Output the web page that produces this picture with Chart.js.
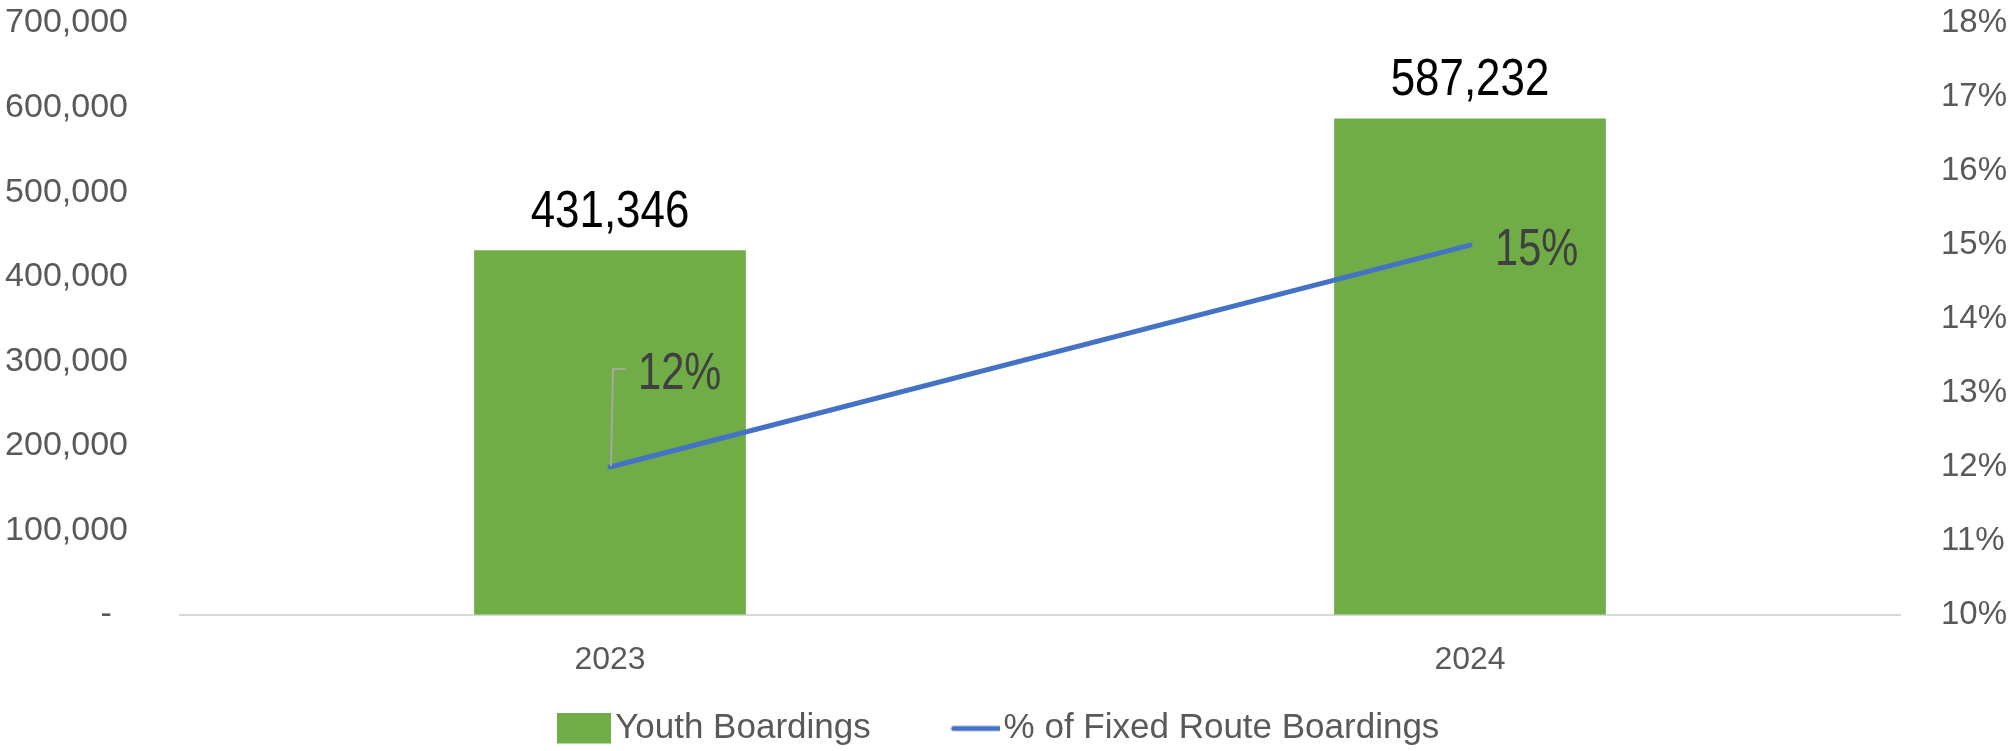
<!DOCTYPE html>
<html>
<head>
<meta charset="utf-8">
<script src="https://cdn.jsdelivr.net/npm/chart.js@4.4.1/dist/chart.umd.min.js"></script>
<style>
  body { margin: 0; background: #fff; }
  #wrap { width: 2010px; height: 751px; }
</style>
</head>
<body>
<div id="wrap"><canvas id="youthChart"></canvas></div>
<script>
const years = ["2023", "2024"];
const youthBoardings = [431346, 587232];
const pctFixedRoute = [0.12, 0.15];
const leftTicks = [0, 100000, 200000, 300000, 400000, 500000, 600000, 700000];
const rightTicks = [0.10, 0.11, 0.12, 0.13, 0.14, 0.15, 0.16, 0.17, 0.18];

const FONT = '"Liberation Sans", Arial, sans-serif';
const GREEN = '#70AD47';
const BLUE = '#4472C4';

// legend swatches (box and short line), right edges line up so the text sits close
function swatch(color, isLine) {
  const c = document.createElement('canvas');
  c.width = 54; c.height = 32;
  const g = c.getContext('2d');
  g.fillStyle = color;
  g.strokeStyle = color;
  if (isLine) {
    g.lineWidth = 5;
    g.lineCap = 'round';
    g.beginPath();
    g.moveTo(8, 16);
    g.lineTo(53, 16);
    g.stroke();
  } else {
    g.fillRect(0, 0, 54, 31);
  }
  return c;
}

// narrow looking text (no narrow font installed, so squeeze it)
function narrowText(ctx, txt, x, y, k, align) {
  ctx.save();
  ctx.translate(x, y);
  ctx.scale(k, 1);
  ctx.textAlign = align;
  ctx.fillText(txt, 0, 0);
  ctx.restore();
}

const valueLabels = {
  id: 'valueLabels',
  afterDatasetsDraw(chart) {
    const ctx = chart.ctx;
    ctx.save();
    ctx.textBaseline = 'alphabetic';

    // bar labels
    ctx.font = '51px ' + FONT;
    ctx.fillStyle = '#000000';
    chart.getDatasetMeta(0).data.forEach((bar, i) => {
      narrowText(ctx, youthBoardings[i].toLocaleString('en-US'), bar.x, bar.y - 23, 0.86, 'center');
    });

    // line labels
    ctx.font = '52px ' + FONT;
    ctx.fillStyle = '#404040';
    chart.getDatasetMeta(1).data.forEach((p, i) => {
      const txt = Math.round(pctFixedRoute[i] * 100) + '%';
      if (i == 0) {
        // label was dragged up, leader line back to the point
        ctx.strokeStyle = '#A6A6A6';
        ctx.lineWidth = 2;
        ctx.beginPath();
        ctx.moveTo(p.x + 1, p.y - 1);
        ctx.lineTo(p.x + 3, p.y - 98);
        ctx.lineTo(p.x + 16, p.y - 98);
        ctx.stroke();
        narrowText(ctx, txt, p.x + 28, p.y - 78, 0.8, 'left');
      } else {
        narrowText(ctx, txt, p.x + 25, p.y + 20, 0.8, 'left');
      }
    });
    ctx.restore();
  }
};

const hiddenTicks = (len) => ({
  display: true,
  drawOnChartArea: false,
  drawTicks: true,
  tickLength: len,
  tickColor: 'rgba(0,0,0,0)'
});

new Chart(document.getElementById("youthChart"), {
  type: 'bar',
  data: {
    labels: years,
    datasets: [
      {
        label: "Youth Boardings",
        data: youthBoardings,
        backgroundColor: GREEN,
        borderWidth: 0,
        barPercentage: 0.316,
        categoryPercentage: 1,
        yAxisID: 'y',
        pointStyle: swatch(GREEN, false),
        order: 1
      },
      {
        type: 'line',
        label: "% of Fixed Route Boardings",
        data: pctFixedRoute,
        borderColor: BLUE,
        backgroundColor: BLUE,
        borderWidth: 5,
        borderCapStyle: 'round',
        pointRadius: 0,
        pointStyle: swatch(BLUE, true),
        yAxisID: 'y1',
        order: 0
      }
    ]
  },
  options: {
    responsive: true,
    maintainAspectRatio: false,
    animation: false,
    layout: { padding: { top: 0, bottom: -5, left: 0, right: 0 } },
    plugins: {
      legend: {
        display: true,
        position: 'bottom',
        labels: {
          usePointStyle: true,
          pointStyleWidth: 27,
          padding: 30,
          color: '#595959',
          font: { family: FONT, size: 35 },
          generateLabels: (chart) => {
            const items = Chart.defaults.plugins.legend.labels.generateLabels(chart);
            // wider gap after the first entry
            items.forEach(it => { if (it.datasetIndex == 0) it.text += '      '; });
            return items;
          },
          sort: (a, b) => a.datasetIndex - b.datasetIndex
        }
      },
      tooltip: { enabled: false }
    },
    scales: {
      x: {
        grid: hiddenTicks(26),
        border: { display: true, color: '#D9D9D9', width: 2 },
        ticks: {
          color: '#595959',
          padding: 0,
          font: { family: FONT, size: 32 }
        },
        afterFit: (scale) => { scale.height = 66; }
      },
      y: {
        position: 'left',
        min: 0,
        max: 700000,
        grid: hiddenTicks(52),
        border: { display: false },
        afterBuildTicks: (scale) => { scale.ticks = leftTicks.map(v => ({ value: v })); },
        ticks: {
          color: '#595959',
          padding: 0,
          font: { family: FONT, size: 34, lineHeight: 1.35 },
          callback: (v) => v == 0 ? '-\u2009 ' : v.toLocaleString('en-US')
        },
        afterFit: (scale) => { scale.width = 180; }
      },
      y1: {
        position: 'right',
        min: 0.10,
        max: 0.18,
        grid: hiddenTicks(41),
        border: { display: false },
        afterBuildTicks: (scale) => { scale.ticks = rightTicks.map(v => ({ value: v })); },
        ticks: {
          color: '#595959',
          padding: 0,
          font: { family: FONT, size: 33, lineHeight: 1.4 },
          callback: (v) => Math.round(v * 100) + '%'
        },
        afterFit: (scale) => { scale.width = 110; }
      }
    }
  },
  plugins: [valueLabels]
});
</script>
</body>
</html>
